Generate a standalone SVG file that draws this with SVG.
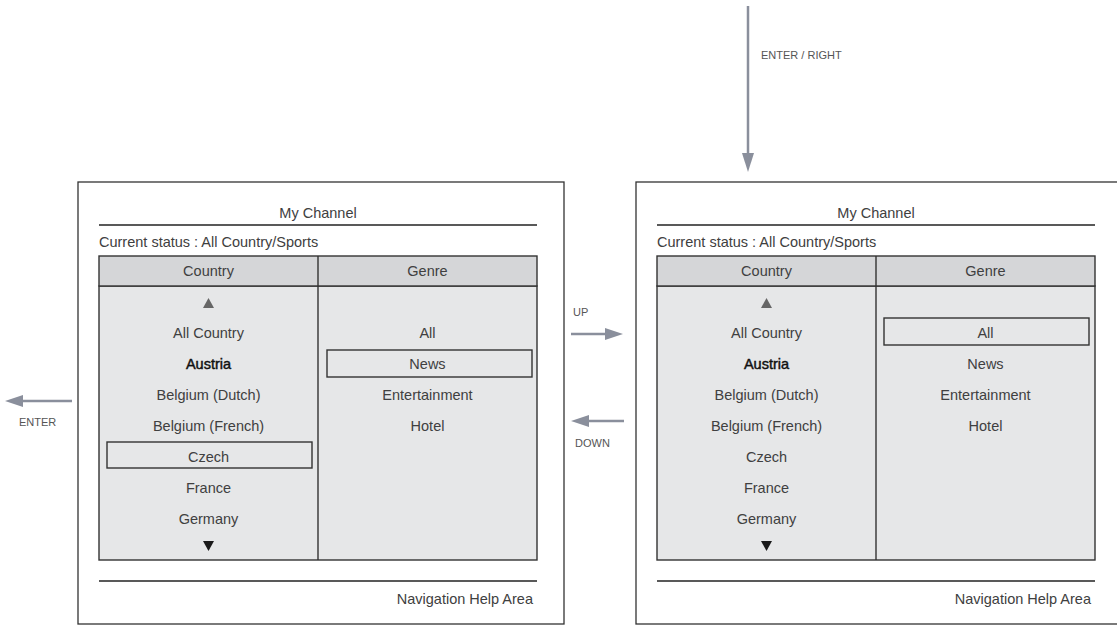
<svg xmlns="http://www.w3.org/2000/svg" width="1117" height="627" viewBox="0 0 1117 627">
<style>
  .frame{fill:#fff;stroke:#333;stroke-width:1.3}
  .rule{stroke:#222;stroke-width:1.6}
  .hdr{fill:#d5d6d8;stroke:#333;stroke-width:1.4}
  .body{fill:#e6e7e8;stroke:#333;stroke-width:1.4}
  .div{stroke:#333;stroke-width:1.4}
  .sel{fill:none;stroke:#333;stroke-width:1.4}
  text{font-family:"Liberation Sans",Arial,sans-serif}
  .t{font-size:14.5px;fill:#404040}
  .c{text-anchor:middle}
  .b{fill:#111;stroke:#111;stroke-width:0.45}
  .lbl{font-size:11px;fill:#555}
  .conn{stroke:#8a8f9c;stroke-width:2.5;fill:none}
  .ah{fill:#8a8f9c}
</style>

<g id="panel-left">
  <rect class="frame" x="78" y="182" width="486" height="442"/>
  <text class="t c" x="318" y="218">My Channel</text>
  <line class="rule" x1="99" y1="225" x2="537" y2="225"/>
  <text class="t" x="99" y="246.5">Current status : All Country/Sports</text>
  <rect class="body" x="99" y="286" width="438" height="274"/>
  <rect class="hdr" x="99" y="256" width="438" height="30"/>
  <line class="div" x1="318" y1="256" x2="318" y2="560"/>
  <text class="t c" x="208.5" y="276">Country</text>
  <text class="t c" x="427.5" y="276">Genre</text>
  <path d="M203,308 L208.5,298 L214,308 Z" fill="#666"/>
  <text class="t c" x="208.5" y="338">All Country</text>
  <text class="t c b" x="208.5" y="369">Austria</text>
  <text class="t c" x="208.5" y="400">Belgium (Dutch)</text>
  <text class="t c" x="208.5" y="431">Belgium (French)</text>
  <rect class="sel" x="107" y="442" width="205" height="26"/>
  <text class="t c" x="208.5" y="462">Czech</text>
  <text class="t c" x="208.5" y="493">France</text>
  <text class="t c" x="208.5" y="524">Germany</text>
  <path d="M203,541 L214,541 L208.5,551 Z" fill="#1a1a1a"/>
  <text class="t c" x="427.5" y="338">All</text>
  <rect class="sel" x="327" y="350" width="205" height="27"/>
  <text class="t c" x="427.5" y="369">News</text>
  <text class="t c" x="427.5" y="400">Entertainment</text>
  <text class="t c" x="427.5" y="431">Hotel</text>
  <line class="rule" x1="99" y1="581" x2="537" y2="581"/>
  <text class="t" x="533" y="604" text-anchor="end">Navigation Help Area</text>
</g>

<g id="panel-right" transform="translate(558,0)">
  <rect class="frame" x="78" y="182" width="486" height="442"/>
  <text class="t c" x="318" y="218">My Channel</text>
  <line class="rule" x1="99" y1="225" x2="537" y2="225"/>
  <text class="t" x="99" y="246.5">Current status : All Country/Sports</text>
  <rect class="body" x="99" y="286" width="438" height="274"/>
  <rect class="hdr" x="99" y="256" width="438" height="30"/>
  <line class="div" x1="318" y1="256" x2="318" y2="560"/>
  <text class="t c" x="208.5" y="276">Country</text>
  <text class="t c" x="427.5" y="276">Genre</text>
  <path d="M203,308 L208.5,298 L214,308 Z" fill="#666"/>
  <text class="t c" x="208.5" y="338">All Country</text>
  <text class="t c b" x="208.5" y="369">Austria</text>
  <text class="t c" x="208.5" y="400">Belgium (Dutch)</text>
  <text class="t c" x="208.5" y="431">Belgium (French)</text>
  <text class="t c" x="208.5" y="462">Czech</text>
  <text class="t c" x="208.5" y="493">France</text>
  <text class="t c" x="208.5" y="524">Germany</text>
  <path d="M203,541 L214,541 L208.5,551 Z" fill="#1a1a1a"/>
  <rect class="sel" x="326" y="318" width="205" height="27"/>
  <text class="t c" x="427.5" y="338">All</text>
  <text class="t c" x="427.5" y="369">News</text>
  <text class="t c" x="427.5" y="400">Entertainment</text>
  <text class="t c" x="427.5" y="431">Hotel</text>
  <line class="rule" x1="99" y1="581" x2="537" y2="581"/>
  <text class="t" x="533" y="604" text-anchor="end">Navigation Help Area</text>
</g>

<g id="connectors">
  <line class="conn" x1="748" y1="6" x2="748" y2="154"/>
  <path class="ah" d="M742,153 L754,153 L748,172 Z"/>
  <text class="lbl" x="761" y="59">ENTER / RIGHT</text>

  <line class="conn" x1="571" y1="334" x2="606" y2="334"/>
  <path class="ah" d="M605,328 L623,334 L605,340 Z"/>
  <text class="lbl" x="573" y="316">UP</text>

  <line class="conn" x1="588" y1="421" x2="624" y2="421"/>
  <path class="ah" d="M589,415 L571,421 L589,427 Z"/>
  <text class="lbl" x="575" y="447">DOWN</text>

  <line class="conn" x1="22" y1="401" x2="72" y2="401"/>
  <path class="ah" d="M23,395 L5,401 L23,407 Z"/>
  <text class="lbl" x="19" y="426">ENTER</text>
</g>
</svg>
